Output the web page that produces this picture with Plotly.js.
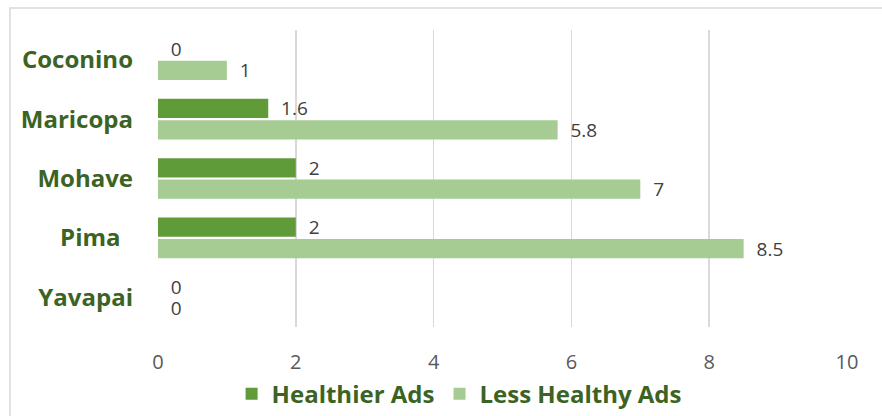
<!DOCTYPE html>
<html><head><meta charset="utf-8">
<script src="https://cdn.plot.ly/plotly-3.0.1.min.js"></script>
<style>html,body{margin:0;padding:0;background:#fff}#c{width:882px;height:416px}</style>
</head><body><div id="c"></div>
<script>
const categories = ["Coconino", "Maricopa", "Mohave", "Pima", "Yavapai"];
const categoryLabels = ["Coconino", "Maricopa", "Mohave", "Pima\u00a0\u00a0", "Yavapai"];
const healthierAds = [0, 1.6, 2, 2, 0];
const lessHealthyAds = [1, 5.8, 7, 8.5, 0];
const xTicks = [0, 2, 4, 6, 8, 10];

const pad = "\u00a0\u00a0";
const labelFont = {family: "Open Sans, Noto Sans, sans-serif", size: 19, color: "#404040"};
const traces = [
  {type: "bar", orientation: "h", name: "Healthier Ads", y: categories, x: healthierAds,
   marker: {color: "#5f9b38"}, text: healthierAds.map(v => pad + v), textposition: "outside",
   textfont: labelFont, cliponaxis: false, constraintext: "none"},
  {type: "bar", orientation: "h", name: "Less Healthy Ads", y: categories, x: lessHealthyAds,
   marker: {color: "#a6cc93"}, text: lessHealthyAds.map(v => pad + v), textposition: "outside",
   textfont: labelFont, cliponaxis: false, constraintext: "none"}
];
const layout = {
  width: 882, height: 416,
  margin: {l: 158, r: 35, t: 30, b: 89, autoexpand: false},
  paper_bgcolor: "#fff", plot_bgcolor: "#fff",
  barmode: "group", bargap: 0.28, bargroupgap: 0.1,
  font: {family: "Open Sans, Noto Sans, sans-serif"},
  xaxis: {range: [0, 10], tickvals: xTicks, showgrid: true, gridcolor: "#d9d9d9", gridwidth: 1.5,
          zeroline: false, showline: false, ticks: "", ticklabelstandoff: 21, automargin: false,
          tickfont: {size: 20, color: "#595959"}, fixedrange: true},
  yaxis: {type: "category", autorange: "reversed", tickvals: categories, ticktext: categoryLabels,
          showgrid: false, zeroline: false, showline: false, ticks: "", ticklabelstandoff: 24, automargin: false,
          tickfont: {size: 24, color: "#3b6323", family: "Open Sans, Noto Sans, sans-serif", weight: "bold"}},
  showlegend: true,
  legend: {orientation: "h", x: 0.437, xanchor: "center", y: -0.226, yanchor: "middle",
           font: {size: 24, color: "#3b6323", weight: "bold"}, itemwidth: 30, traceorder: "normal"},
  shapes: [{type: "rect", xref: "paper", yref: "paper", x0: -0.2148, x1: 1.1, y0: -0.4, y1: 1.074,
            line: {color: "#d9d9d9", width: 1.5}, fillcolor: "rgba(0,0,0,0)", layer: "below"}]
};
Plotly.newPlot("c", traces, layout, {displayModeBar: false, staticPlot: true});
</script></body></html>
